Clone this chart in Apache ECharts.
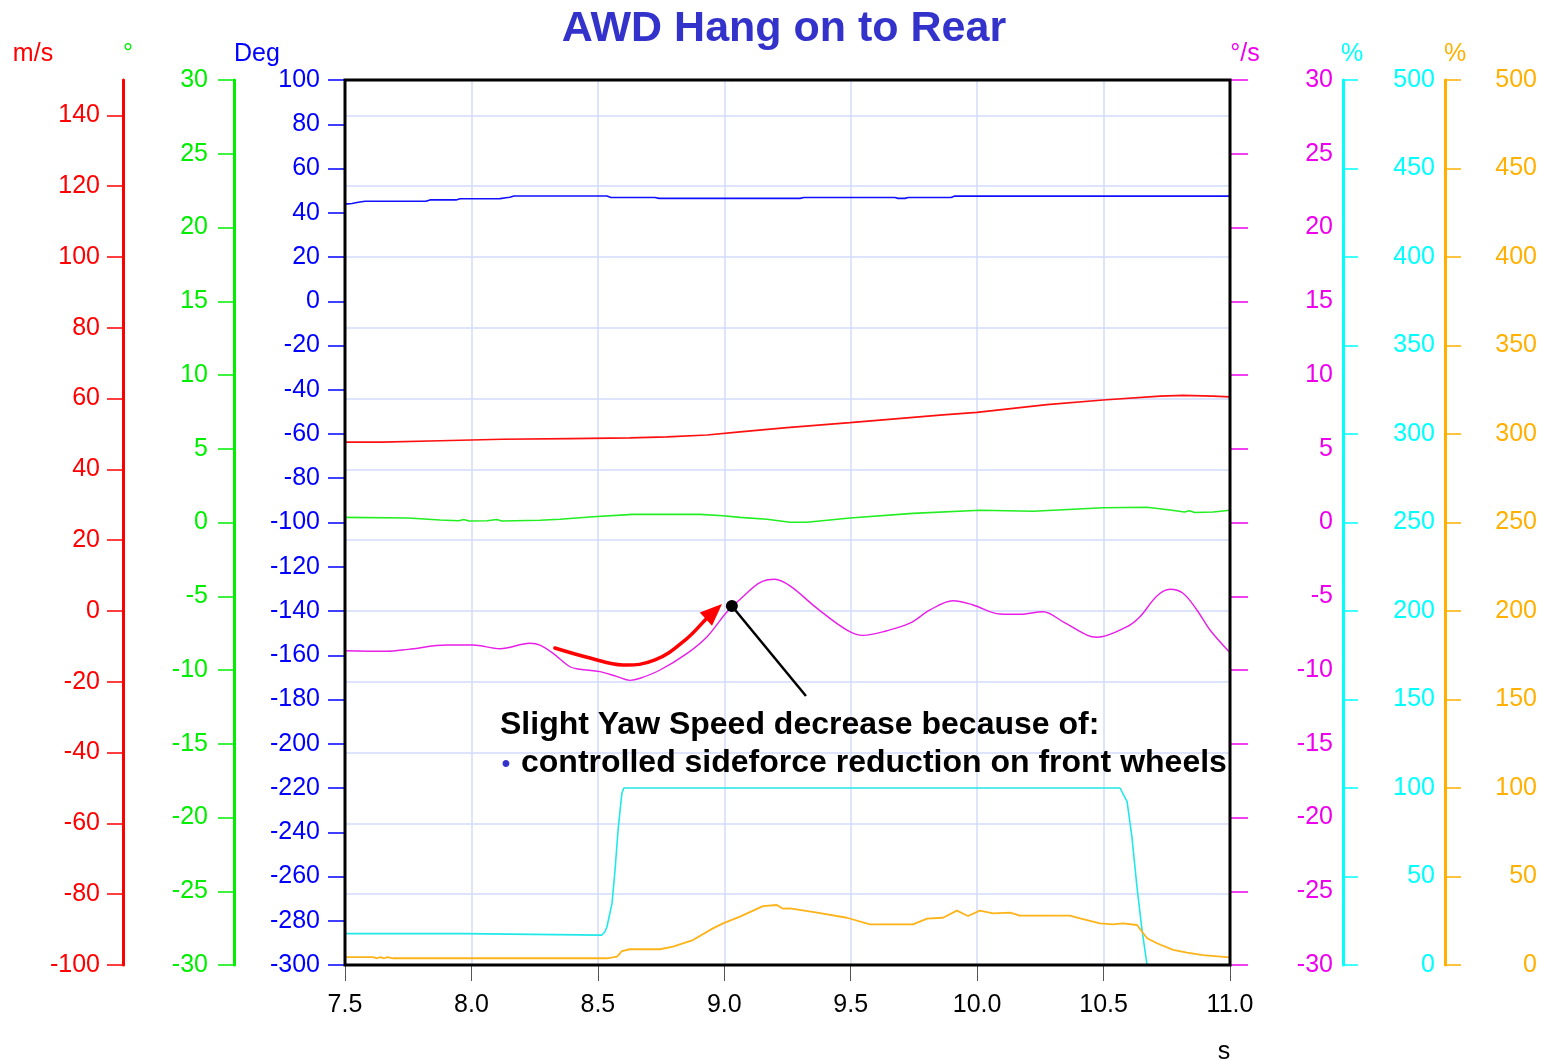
<!DOCTYPE html>
<html>
<head>
<meta charset="utf-8">
<title>AWD Hang on to Rear</title>
<script src="https://cdn.jsdelivr.net/npm/echarts@6/dist/echarts.min.js"></script>
<style>
  html, body { margin: 0; padding: 0; background: #fff; }
  #chart { width: 1546px; height: 1061px; }
</style>
</head>
<body>
<div id="chart"></div>
<script>
// Time channel [s] and measured signals, as [time, value] pairs
const steeringDeg = [
  [7.5, 43.9], [7.528, 44.2], [7.547, 44.6], [7.579, 45.2], [7.82, 45.2], [7.836, 45.8],
  [7.939, 45.8], [7.955, 46.3], [8.113, 46.4], [8.137, 46.8], [8.152, 47.0], [8.168, 47.6],
  [8.536, 47.6], [8.552, 46.9], [8.726, 46.9], [8.742, 46.5], [9.299, 46.5], [9.315, 46.9],
  [9.675, 46.9], [9.687, 46.5], [9.715, 46.5], [9.727, 46.9], [9.897, 46.9], [9.912, 47.6],
  [11.0, 47.5]
];
const speedMs = [
  [7.5, 47.7], [7.646, 47.7], [7.876, 48.1], [8.121, 48.5], [8.39, 48.7], [8.627, 48.9],
  [8.773, 49.2], [8.932, 49.7], [9.062, 50.6], [9.248, 51.8], [9.497, 53.2], [9.865, 55.4],
  [9.999, 56.1], [10.276, 58.3], [10.498, 59.6], [10.723, 60.7], [10.814, 60.9],
  [10.933, 60.7], [11.0, 60.5]
];
const slipAngle = [
  [7.5, 0.35], [7.749, 0.31], [7.876, 0.17], [7.95, 0.12], [7.97, 0.2], [7.99, 0.1],
  [8.062, 0.12], [8.1, 0.2], [8.12, 0.1], [8.271, 0.15], [8.35, 0.22], [8.481, 0.39],
  [8.639, 0.55], [8.904, 0.55], [8.995, 0.46], [9.062, 0.35], [9.169, 0.22], [9.26, 0.02],
  [9.327, 0.02], [9.497, 0.31], [9.746, 0.62], [10.011, 0.83], [10.221, 0.76], [10.498, 1.0],
  [10.672, 1.03], [10.763, 0.85], [10.82, 0.71], [10.84, 0.8], [10.86, 0.68], [10.933, 0.71],
  [11.0, 0.83]
];
const yawRate = [
  [7.5, -8.69], [7.666, -8.73], [7.75, -8.6], [7.903, -8.31], [8.006, -8.31], [8.113, -8.56],
  [8.232, -8.19], [8.271, -8.31], [8.323, -8.87], [8.39, -9.78], [8.429, -9.95], [8.508, -10.11],
  [8.576, -10.45], [8.627, -10.7], [8.667, -10.56], [8.746, -10.0], [8.853, -8.87], [8.932, -7.74],
  [9.011, -6.05], [9.074, -5.03], [9.141, -4.08], [9.2, -3.85], [9.26, -4.3],
  [9.367, -5.82], [9.485, -7.29], [9.549, -7.65], [9.643, -7.34], [9.734, -6.83], [9.814, -5.93],
  [9.904, -5.3], [9.984, -5.59], [10.09, -6.2], [10.169, -6.22], [10.26, -6.05], [10.34, -6.73],
  [10.434, -7.63], [10.474, -7.78], [10.593, -7.06], [10.644, -6.39], [10.711, -4.98],
  [10.763, -4.53], [10.814, -4.8], [10.869, -5.93], [10.921, -7.29], [11.0, -8.83]
];
const frontReduction = [
  [7.5, 17.7], [7.966, 17.7], [7.97, 16.9], [8.516, 16.9], [8.528, 18.8], [8.536, 21.6],
  [8.556, 34.8], [8.568, 53.7], [8.58, 76.3], [8.595, 97], [8.603, 100], [10.565, 100],
  [10.593, 92.3], [10.612, 72.5], [10.632, 44.2], [10.652, 19.8], [10.672, 0], [11.0, 0]
];
const rearTorque = [
  [7.5, 4.5], [7.611, 4.5], [7.627, 3.8], [7.64, 4.5], [7.655, 3.8], [7.668, 4.5], [7.69, 3.8],
  [8.536, 3.8], [8.576, 4.7], [8.595, 7.9], [8.627, 8.9], [8.746, 8.9], [8.797, 10.4],
  [8.876, 14.1], [8.955, 20.7], [8.995, 23.5], [9.062, 27.3], [9.153, 33.3], [9.208, 33.9],
  [9.232, 31.8], [9.26, 32.0], [9.367, 29.6], [9.485, 26.7], [9.576, 23.0], [9.746, 23.0],
  [9.802, 26.2], [9.865, 26.7], [9.92, 30.7], [9.964, 27.7], [10.011, 30.7], [10.063, 29.2],
  [10.13, 29.6], [10.169, 27.9], [10.367, 27.9], [10.407, 26.4], [10.486, 23.5], [10.537, 23.0],
  [10.577, 23.5], [10.632, 22.6], [10.672, 15.1], [10.711, 12.3], [10.775, 8.5], [10.83, 7.0],
  [10.893, 5.6], [11.0, 4.3]
];

// Annotation path on the yaw-rate scale: curved arrow, marker dot and leader line
const arrowPath = [[8.33, -8.51], [8.469, -9.19], [8.599, -9.66], [8.726, -9.32], [8.845, -7.97], [8.932, -6.47]];
const arrowTip = [8.991, -5.53];
const markerPoint = [9.03, -5.66];
const leaderEnd = [9.323, -11.76];

const titleText = 'AWD Hang on to Rear';
const noteLine1 = 'Slight Yaw Speed decrease because of:';
const noteLine2 = 'controlled sideforce reduction on front wheels';

const FONT = '"Liberation Sans", Arial, Helvetica, sans-serif';
const LABEL_SIZE = 25;
const C = {
  red: '#ff0000', green: '#00ee00', blue: '#0000ff', magenta: '#ee00ee',
  cyan: '#00ffff', orange: '#ffb000', grid: '#d2dbfa', title: '#3333cc'
};

function range(a, b, s) { const r = []; for (let v = a; v <= b + 1e-9; v += s) r.push(+v.toFixed(6)); return r; }
const speedTicks = range(-100, 140, 20);

function yAxisDef(o) {
  return {
    type: 'value', position: o.pos, offset: o.offset, min: o.min, max: o.max, interval: o.step,
    axisLine: { show: o.line !== false, onZero: false, lineStyle: { color: o.color, width: 3 } },
    axisTick: Object.assign({ show: true, inside: false, length: o.tick, lineStyle: { color: o.color, width: 1.5, opacity: 1 } },
      o.ticks ? { customValues: o.ticks } : {}),
    axisLabel: Object.assign({
      color: o.color, fontSize: LABEL_SIZE, fontFamily: FONT, margin: o.margin, align: 'right',
      padding: [4, 0, 0, 0]
    }, o.ticks ? { customValues: o.ticks } : {}),
    splitLine: o.split ? { show: true, lineStyle: { color: C.grid, width: 1.5 } } : { show: false }
  };
}

const chart = echarts.init(document.getElementById('chart'), null, { renderer: 'canvas' });

function lineSeries(name, data, yIdx, color, width, smooth) {
  return {
    name, type: 'line', data, yAxisIndex: yIdx, showSymbol: false, symbol: 'none',
    smooth: smooth || false, lineStyle: { color, width }, animation: false, z: 3
  };
}

chart.setOption({
  animation: false,
  grid: { left: 345, right: 316, top: 80, bottom: 96, show: true, borderColor: '#000', borderWidth: 3, containLabel: false, z: 5 },
  xAxis: {
    type: 'value', min: 7.5, max: 11, interval: 0.5,
    axisLine: { show: false, onZero: false },
    axisTick: { show: true, inside: false, length: 16, lineStyle: { color: '#555', width: 1 } },
    axisLabel: { color: '#000', fontSize: LABEL_SIZE, fontFamily: FONT, margin: 28, formatter: v => v.toFixed(1) },
    splitLine: { show: true, lineStyle: { color: C.grid, width: 1.5 } }
  },
  yAxis: [
    yAxisDef({ pos: 'left', offset: 222, min: -100, max: 150, step: 20, color: C.red, tick: 16, margin: 23, split: true, ticks: speedTicks }),
    yAxisDef({ pos: 'left', offset: 111, min: -30, max: 30, step: 5, color: C.green, tick: 16, margin: 26 }),
    yAxisDef({ pos: 'left', offset: 0, min: -300, max: 100, step: 20, color: C.blue, tick: 17, margin: 25, line: false }),
    yAxisDef({ pos: 'right', offset: 0, min: -30, max: 30, step: 5, color: C.magenta, tick: 18, margin: 103, line: false }),
    yAxisDef({ pos: 'right', offset: 113, min: 0, max: 500, step: 50, color: C.cyan, tick: 15, margin: 92 }),
    yAxisDef({ pos: 'right', offset: 215, min: 0, max: 500, step: 50, color: C.orange, tick: 16, margin: 92 })
  ],
  series: [
    lineSeries('Steering', steeringDeg, 2, '#1010ff', 1.6),
    lineSeries('Speed', speedMs, 0, '#ff1010', 1.6),
    lineSeries('Side slip', slipAngle, 1, '#22ee22', 1.6),
    lineSeries('Yaw rate', yawRate, 3, '#e81ee8', 1.4, 0.35),
    lineSeries('Front reduction', frontReduction, 4, '#20e8e8', 1.6),
    lineSeries('Rear torque', rearTorque, 5, '#fdb31a', 1.8)
  ]
});

// Unit names above the axes, title and the explanatory note
const unitStyle = (text, x, color) => ({
  type: 'text', x, y: 54, z: 10,
  style: { text, fill: color, font: LABEL_SIZE + 'px ' + FONT, align: 'center', verticalAlign: 'middle' }
});
const graphics = [
  { type: 'text', x: 784, y: 29, z: 10, style: { text: titleText, fill: C.title, font: 'bold 43px ' + FONT, align: 'center', verticalAlign: 'middle' } },
  unitStyle('m/s', 33, C.red),
  unitStyle('°', 128, C.green),
  unitStyle('Deg', 257, C.blue),
  unitStyle('°/s', 1245, C.magenta),
  unitStyle('%', 1352, C.cyan),
  unitStyle('%', 1455, C.orange),
  { type: 'text', x: 1224, y: 1052, z: 10, style: { text: 's', fill: '#000', font: LABEL_SIZE + 'px ' + FONT, align: 'center', verticalAlign: 'middle' } },
  { type: 'text', x: 500, y: 725, z: 10, style: { text: noteLine1, fill: '#000', font: 'bold 32px ' + FONT, align: 'left', verticalAlign: 'middle' } },
  { type: 'text', x: 506, y: 764, z: 10, style: { text: '•', fill: C.title, font: 'bold 24px ' + FONT, align: 'center', verticalAlign: 'middle' } },
  { type: 'text', x: 521, y: 763, z: 10, style: { text: noteLine2, fill: '#000', font: 'bold 32px ' + FONT, align: 'left', verticalAlign: 'middle' } }
];

// Arrow and marker placed on the yaw-rate scale
const toPx = p => chart.convertToPixel({ seriesIndex: 3 }, p);
const pathPx = arrowPath.map(toPx);
const tipPx = toPx(arrowTip);
const lastPx = pathPx[pathPx.length - 1];
const dx = tipPx[0] - lastPx[0], dy = tipPx[1] - lastPx[1];
const len = Math.hypot(dx, dy) || 1;
const ux = dx / len, uy = dy / len;
const headLen = 22, headHalf = 9;
const baseX = tipPx[0] - ux * headLen, baseY = tipPx[1] - uy * headLen;
graphics.push({
  type: 'polyline', z: 10,
  shape: { points: pathPx.concat([[baseX + ux * 2, baseY + uy * 2]]), smooth: 0.4 },
  style: { stroke: '#ff0000', lineWidth: 3.5, fill: null, lineCap: 'round' }
});
graphics.push({
  type: 'polygon', z: 10,
  shape: { points: [tipPx, [baseX - uy * headHalf, baseY + ux * headHalf], [baseX + uy * headHalf, baseY - ux * headHalf]] },
  style: { fill: '#ff0000' }
});
const markPx = toPx(markerPoint);
const leadPx = toPx(leaderEnd);
graphics.push({
  type: 'line', z: 10,
  shape: { x1: markPx[0], y1: markPx[1], x2: leadPx[0], y2: leadPx[1] },
  style: { stroke: '#000', lineWidth: 2.5 }
});
graphics.push({
  type: 'circle', z: 11,
  shape: { cx: markPx[0], cy: markPx[1], r: 6 },
  style: { fill: '#000' }
});

chart.setOption({ graphic: graphics });
</script>
</body>
</html>
